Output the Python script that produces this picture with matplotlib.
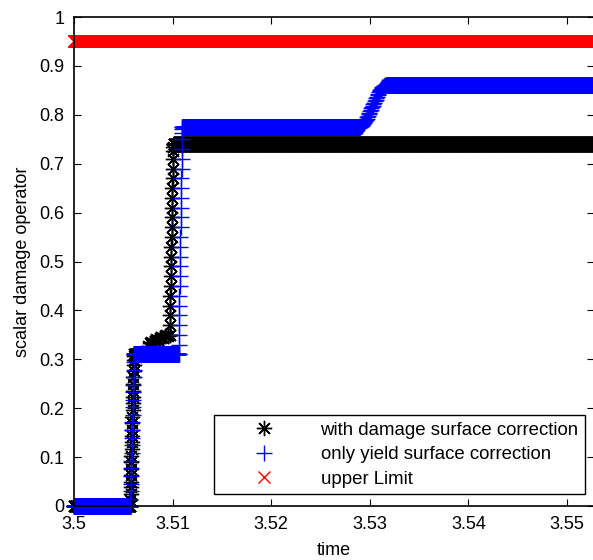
import numpy as np
import matplotlib
matplotlib.use('Agg')
import matplotlib.pyplot as plt

plt.rcParams['font.family'] = ['Liberation Sans', 'DejaVu Sans']

# sampling step of the solver output along the flat stretches
dt = 2e-5
t_first, t_last = 3.5, 3.5535

x_ticks = [3.5, 3.51, 3.52, 3.53, 3.54, 3.55]
x_ticklabels = ['3.5', '3.51', '3.52', '3.53', '3.54', '3.55']
y_ticks = [0, 0.1, 0.2, 0.3, 0.4, 0.5, 0.6, 0.7, 0.8, 0.9, 1.0]
y_ticklabels = ['0', '0.1', '0.2', '0.3', '0.4', '0.5', '0.6', '0.7', '0.8', '0.9', '1']

labels = ['with damage surface correction', 'only yield surface correction', 'upper Limit']

# --- with damage surface correction (black)
dmg_levels = [0.0, 0.31, 0.74]
dmg_rise1_t = (3.5057, 3.5061)
dmg_rise1 = [0.0, 0.012, 0.025, 0.038, 0.05, 0.063, 0.076, 0.09, 0.103, 0.116, 0.13,
             0.143, 0.156, 0.17, 0.183, 0.196, 0.21, 0.223, 0.236, 0.25, 0.263,
             0.276, 0.288, 0.298, 0.306, 0.31]
dmg_blob_t = (3.5075, 3.5097)
dmg_blob = [0.328, 0.333, 0.336, 0.334, 0.338, 0.341, 0.339, 0.343, 0.345, 0.343,
            0.347, 0.349, 0.347, 0.35]
dmg_rise2_t = (3.5097, 3.5101)
dmg_rise2 = [0.35, 0.37, 0.39, 0.41, 0.43, 0.45, 0.47, 0.49, 0.51, 0.53, 0.55, 0.57,
             0.59, 0.61, 0.63, 0.65, 0.67, 0.69, 0.71, 0.725, 0.735, 0.74]

# --- only yield surface correction (blue)
yld_levels = [0.0, 0.31, 0.775, 0.861]
yld_rise1_t = (3.5057, 3.5061)
yld_rise1 = [0.0, 0.015, 0.03, 0.046, 0.062, 0.078, 0.093, 0.109, 0.124, 0.14, 0.155,
             0.171, 0.186, 0.202, 0.217, 0.233, 0.248, 0.264, 0.279, 0.295, 0.31]
yld_rise2_t = (3.5106, 3.5110)
yld_rise2 = [0.31, 0.33, 0.35, 0.37, 0.39, 0.41, 0.43, 0.45, 0.47, 0.49, 0.51, 0.53,
             0.55, 0.57, 0.59, 0.61, 0.63, 0.65, 0.67, 0.69, 0.71, 0.73, 0.75,
             0.762, 0.77, 0.775]
yld_rise3_t = (3.5289, 3.5317)
yld_rise3 = [0.775, 0.7755, 0.776, 0.777, 0.778, 0.7795, 0.781, 0.783, 0.785, 0.787,
             0.789, 0.792, 0.795, 0.798, 0.801, 0.804, 0.807, 0.81, 0.813, 0.816,
             0.819, 0.822, 0.825, 0.828, 0.831, 0.834, 0.837, 0.84, 0.843, 0.846,
             0.848, 0.85, 0.852, 0.854, 0.856, 0.857, 0.858, 0.859, 0.86, 0.8605,
             0.861]

# --- upper limit (red)
upper_limit = 0.95


def flat(t0, t1, value):
    t = np.arange(t0, t1, dt)
    return t, np.full(t.size, value)


def steps(span, values):
    return np.linspace(span[0], span[1], len(values)), np.array(values)


def join(*pieces):
    t = np.concatenate([p[0] for p in pieces])
    y = np.concatenate([p[1] for p in pieces])
    return t, y


t_dmg, y_dmg = join(flat(t_first, dmg_rise1_t[0], dmg_levels[0]),
                    steps(dmg_rise1_t, dmg_rise1),
                    flat(dmg_rise1_t[1], dmg_blob_t[0], dmg_levels[1]),
                    steps(dmg_blob_t, dmg_blob),
                    steps(dmg_rise2_t, dmg_rise2),
                    flat(dmg_rise2_t[1], t_last, dmg_levels[2]))

t_yld, y_yld = join(flat(t_first, yld_rise1_t[0], yld_levels[0]),
                    steps(yld_rise1_t, yld_rise1),
                    flat(yld_rise1_t[1], yld_rise2_t[0], yld_levels[1]),
                    steps(yld_rise2_t, yld_rise2),
                    flat(yld_rise2_t[1], yld_rise3_t[0], yld_levels[2]),
                    steps(yld_rise3_t, yld_rise3),
                    flat(yld_rise3_t[1], t_last, yld_levels[3]))

t_lim, y_lim = flat(t_first, t_last, upper_limit)

fig = plt.figure(figsize=(5.93, 5.60), dpi=100)
ax = fig.add_axes([74 / 593, 54 / 560, 520 / 593, 489 / 560])

ax.plot(t_dmg, y_dmg, linestyle='none', marker=(8, 2, 0), markersize=11,
        markeredgewidth=1.0, color='black', label=labels[0], clip_on=False)
ax.plot(t_yld, y_yld, linestyle='none', marker='+', markersize=11,
        markeredgewidth=1.0, color='blue', label=labels[1], clip_on=False)
ax.plot(t_lim, y_lim, linestyle='none', marker='x', markersize=9,
        markeredgewidth=1.0, color='red', label=labels[2], clip_on=False)

ax.set_xlim(3.5, 3.5 + 520 / 9860)
ax.set_ylim(0, 1)
ax.set_xticks(x_ticks)
ax.set_xticklabels(x_ticklabels)
ax.set_yticks(y_ticks)
ax.set_yticklabels(y_ticklabels)
ax.tick_params(direction='in', top=True, right=True, length=5, width=0.8,
               labelsize=13, pad=7)
for s in ax.spines.values():
    s.set_linewidth(1.2)

ax.set_xlabel('time', fontsize=13, labelpad=7)
ax.set_ylabel('scalar damage operator', fontsize=13, labelpad=6)

leg = ax.legend(loc='lower right', bbox_to_anchor=(0.983, 0.0245), fontsize=13.4,
                numpoints=1, handlelength=4.7, handletextpad=0.68, borderpad=0.35,
                labelspacing=0.4, borderaxespad=0, fancybox=False, framealpha=1)
leg.get_frame().set_edgecolor('black')
leg.get_frame().set_linewidth(1.0)

fig.savefig('out.png', dpi=100)
